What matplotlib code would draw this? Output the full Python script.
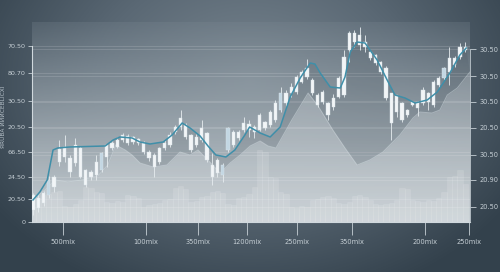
import numpy as np
import matplotlib
matplotlib.use("Agg")
import matplotlib.pyplot as plt
from matplotlib.colors import LinearSegmentedColormap, to_rgb

# ── data (price units, one candle per index) ─────────────────────────────────
opens = [12, 14, 19, 42, 35, 60, 65, 50, 59, 45, 37, 45, 47, 69, 65, 74, 75, 82, 79, 80, 79,
         70, 64, 55, 60, 74, 77, 90, 95, 85, 72, 77, 82, 62, 45, 49, 57, 94, 77, 84, 92, 92,
         90, 92, 94, 97, 102, 129, 119, 129, 130, 140, 145, 129, 117, 120, 107, 115, 125,
         127, 172, 180, 177, 175, 164, 159, 150, 124, 99, 110, 102, 107, 117, 114, 119, 120,
         117, 137, 154, 150, 157, 165, 172]
closes = [27, 24, 29, 27, 45, 73, 75, 64, 77, 74, 52, 50, 60, 52, 77, 79, 82, 87, 86, 85, 83,
          79, 70, 67, 74, 79, 87, 95, 104, 97, 87, 85, 94, 89, 57, 62, 47, 72, 90, 90, 99, 98,
          95, 107, 100, 110, 119, 112, 129, 135, 145, 150, 154, 142, 127, 130, 119, 124, 144,
          165, 189, 189, 187, 180, 170, 167, 160, 154, 129, 127, 119, 112, 120, 120, 132, 129,
          140, 144, 144, 164, 164, 175, 175]
highs = [29, 27, 31, 46, 47, 82, 87, 67, 84, 76, 53, 52, 67, 70, 78, 81, 85, 89, 88, 86, 84,
         81, 72, 69, 75, 82, 90, 97, 112, 99, 88, 88, 102, 90, 69, 64, 59, 95, 92, 92, 105, 102,
         97, 109, 101, 112, 122, 135, 132, 139, 147, 152, 163, 144, 129, 132, 120, 128, 146,
         172, 191, 192, 195, 187, 172, 168, 161, 156, 129, 127, 120, 113, 121, 121, 135, 130,
         142, 146, 155, 175, 166, 179, 180]
lows = [7, 10, 16, 24, 30, 56, 60, 45, 56, 44, 35, 42, 42, 50, 55, 72, 74, 80, 77, 78, 77,
        68, 61, 45, 58, 72, 75, 88, 92, 83, 70, 75, 80, 60, 37, 45, 40, 70, 75, 82, 90, 85,
        84, 91, 92, 95, 100, 110, 116, 125, 128, 139, 143, 127, 115, 118, 102, 112, 124,
        125, 160, 175, 172, 170, 162, 157, 148, 122, 82, 105, 100, 105, 116, 106, 117, 112,
        115, 135, 142, 137, 155, 163, 170]
volume = [25, 24, 27, 28, 30, 31, 16, 15, 18, 22, 35, 34, 30, 29, 20, 19, 21, 20, 27, 26, 24,
          15, 17, 18, 19, 22, 23, 34, 36, 33, 20, 21, 25, 26, 30, 31, 29, 18, 17, 24, 25, 28,
          35, 72, 70, 45, 44, 30, 28, 15, 14, 16, 15, 22, 23, 25, 26, 24, 19, 18, 20, 26, 27,
          25, 22, 18, 17, 18, 19, 22, 34, 33, 22, 21, 20, 22, 21, 24, 30, 45, 46, 52, 38]

# moving-average line vertices
ma_x = [0, 1.3, 2.7, 3.8, 4.7, 7, 13.7, 15.2, 16.5, 18.8, 20.3, 22.2, 24.7, 26.4, 28.3, 29.8,
        31.7, 33.2, 34.7, 36.6, 38.3, 40.2, 41.1, 43.1, 45, 46.9, 48.8, 50.7, 52.6, 53.5, 54.5,
        56.4, 58.3, 59.2, 60.2, 61.5, 63, 65.3, 67.2, 68.7, 70.6, 72.5, 74.8, 76.7, 79.1, 81, 82.2]
ma_y = [22, 30, 42, 72, 74, 75, 76, 82, 85, 84, 80, 78, 80, 87, 99, 94, 86, 76, 67, 65, 72, 87,
        95, 89, 85, 95, 125, 144, 159, 158, 149, 135, 134, 145, 170, 180, 179, 162, 142, 127,
        124, 119, 122, 130, 149, 167, 174]

# lighter envelope (top of the pale area)
env_x = [-0.2, 2.3, 4.2, 6.6, 9.3, 12.3, 14.2, 15.7, 17.5, 18.8, 20.3, 22.8, 25.4, 27.9, 29.8,
         31.3, 33.2, 35.5, 37.4, 39.3, 41.2, 43.1, 44.6, 46.1, 49.1, 52.2, 54.1, 56.9, 59.2,
         61.5, 63.9, 66.4, 69.6, 72.1, 73.4, 75.7, 77.2, 78.6, 80.5, 82.9]
env_y = [22, 32, 42, 40, 42, 46, 57, 77, 72, 67, 59, 55, 57, 70, 67, 72, 62, 49, 59, 67, 76, 81,
         76, 74, 102, 129, 116, 92, 74, 57, 62, 70, 87, 104, 110, 109, 112, 127, 134, 150]

left_ticks = [176, 149, 121, 95, 70, 45, 23, 0]
left_labels = ["70.50", "80.70", "30.50", "20.50", "66.50", "24.50", "20.50", "0"]
right_ticks = [173, 146, 120, 94, 67, 42, 15]
right_labels = ["30.50", "30.50", "30.50", "20.50", "30.50", "20.90", "20.50"]
x_ticks = [5.7, 21.4, 31.3, 40.6, 50.1, 60.5, 74.4, 82.7]
x_labels = ["500mix", "100mix", "350mix", "1200mix", "250mix", "350mix", "200mix", "250mix"]

_TXT = "#c6cfd5"
_TEAL = "#3f8fa9"

fig = plt.figure(figsize=(5, 2.72), dpi=100)

# ── background vignette ──────────────────────────────────────────────────────
bg = fig.add_axes([0, 0, 1, 1], zorder=-10)
yy, xx = np.mgrid[0:1:272j, 0:1:500j]
d = np.clip(np.sqrt(((xx - 0.5) / 0.62) ** 2 + ((yy - 0.3) / 0.85) ** 2), 0, 1)
bg_cmap = LinearSegmentedColormap.from_list("bg", ["#7a8791", "#5a6874", "#33414c"])
bg.imshow(d, cmap=bg_cmap, aspect="auto", extent=[0, 1, 0, 1], origin="upper")
bg.axis("off")

ax = fig.add_axes([0.064, 0.184, 0.876, 0.735])
ax.set_xlim(-0.19, 82.92)
ax.set_ylim(0, 200)
ax.patch.set_visible(False)

# panel gradient, fading out towards the top
t = np.linspace(0, 1, 256)
c_lo, c_hi = np.array(to_rgb("#c4ccd1")), np.array(to_rgb("#7f8c96"))
rgba = np.zeros((256, 1, 4))
rgba[:, 0, :3] = c_lo + (c_hi - c_lo) * t[:, None]
rgba[:, 0, 3] = 1 - 0.75 * t ** 2
ax.imshow(rgba, aspect="auto", extent=[-0.19, 82.92, 0, 200], origin="lower", zorder=0)

# grid
for tk in left_ticks[:-1] + right_ticks:
    ax.axhline(tk, color="white", alpha=0.16, lw=0.6, zorder=1)

# pale area + dark band
ax.fill_between(env_x, 0, env_y, color="white", alpha=0.15, lw=0, zorder=1)
k_ma, k_env = 7, 7
band_x = ma_x[k_ma:] + env_x[k_env:][::-1]
band_y = ma_y[k_ma:] + env_y[k_env:][::-1]
ax.fill(band_x, band_y, color="#2f3b44", alpha=0.12, lw=0, zorder=1)
ax.plot(env_x, env_y, color="#dfe8ec", lw=0.7, alpha=0.4, zorder=2)

# volume
idx = np.arange(len(opens))
ax.bar(idx, volume, width=1.0, color="white", alpha=0.13,
       edgecolor=(1, 1, 1, 0.3), linewidth=0.4, zorder=2)

# candles
o = np.array(opens)
c = np.array(closes)
up = c >= o
body_lo = np.minimum(o, c)
body_h = np.abs(c - o)
ax.vlines(idx, lows, highs, color="#e6ecef", lw=0.6, zorder=3)
colors = np.where(up, "#f2f5f7", "#c3d7e3")
ax.bar(idx, body_h, bottom=body_lo, width=0.62, color=colors,
       edgecolor="#d9e3e9", linewidth=0.3, zorder=4)

# moving average
ax.plot(ma_x, ma_y, color=_TEAL, lw=1.1, zorder=5)

# axes styling
for s in ["top", "right"]:
    ax.spines[s].set_visible(False)
ax.spines["left"].set_color("#d0d8dd")
ax.spines["bottom"].set_color("#d0d8dd")
ax.spines["left"].set_linewidth(0.8)
ax.spines["bottom"].set_linewidth(0.8)
ax.spines["left"].set_bounds(0, left_ticks[0])
ax.set_yticks(left_ticks, left_labels)
ax.set_xticks(x_ticks, x_labels)
ax.tick_params(axis="y", colors=_TXT, labelsize=4.6, length=3, width=0.6, pad=1.5)
ax.tick_params(axis="x", colors=_TXT, labelsize=4.8, length=9, width=0.6, pad=3)

ax2 = ax.twinx()
ax2.set_ylim(0, 200)
ax2.set_yticks(right_ticks, right_labels)
ax2.tick_params(axis="y", colors=_TXT, labelsize=4.8, length=4, width=0.6, pad=3)
for s in ["top", "left", "bottom"]:
    ax2.spines[s].set_visible(False)
ax2.spines["right"].set_color("#c0c9cf")
ax2.spines["right"].set_linewidth(0.6)
ax2.spines["right"].set_bounds(0, right_ticks[0])

fig.text(0.007, 0.57, "ЯRUBA ИИИСЕВLICXI", rotation=90, fontsize=4.2,
         color="#b4bfc7", ha="center", va="center")

fig.savefig("out.png", dpi=100)
